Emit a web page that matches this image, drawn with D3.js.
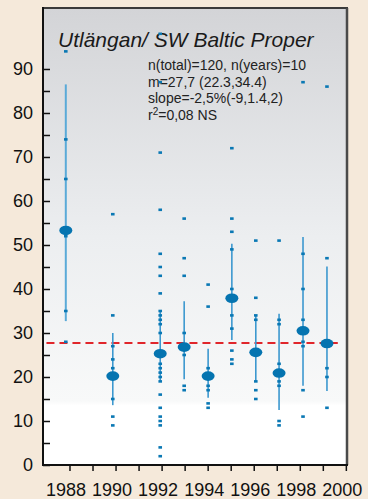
<!DOCTYPE html>
<html>
<head>
<meta charset="utf-8">
<script src="https://cdn.jsdelivr.net/npm/d3@7"></script>
<style>
  html, body { margin: 0; padding: 0; background: #f5e9da; }
  svg { display: block; }
</style>
</head>
<body>
<div id="chart"></div>
<script>
// years sampled and the time (decimal year) the samples are plotted at
var years = [1988, 1990, 1992, 1993, 1994, 1995, 1996, 1997, 1998, 1999];
var sampleTime = [1987.84, 1989.88, 1991.94, 1992.98, 1994.02, 1995.05, 1996.09, 1997.10, 1998.14, 1999.18];

// annual means and their confidence intervals
var means = [53.3, 20.2, 25.3, 26.8, 20.2, 37.9, 25.6, 20.9, 30.5, 27.6];
var ciLow = [32.7, 13.6, 19.0, 19.5, 15.3, 28.4, 19.0, 12.5, 18.0, 16.8];
var ciHigh = [86.5, 30.0, 35.0, 37.2, 26.4, 50.3, 34.0, 34.4, 51.8, 45.1];

// individual samples per year
var samples = [
  [94, 74, 65, 52, 35, 28],
  [57, 34, 27, 24, 22, 15, 11, 9],
  [98, 87, 71, 58, 48, 45, 43, 39, 35, 34, 33, 32, 30, 23, 22, 21, 20, 19, 16, 13, 11, 10, 9, 4, 2],
  [56, 47, 43, 30, 25, 18, 17],
  [41, 36, 22, 18, 17, 14, 13],
  [72, 56, 53, 49, 40, 34, 31, 26, 24, 23],
  [51, 38, 34, 33, 19, 17, 15],
  [51, 33, 32, 23, 19, 18, 10, 9],
  [87, 48, 40, 33, 28, 27, 17, 11],
  [86, 47, 22, 20, 13]
];

var overallMean = 27.7;
var refLineYears = [1987.0, 1999.65];

var title = "Utlängan/ SW Baltic Proper";
var statLines = ["n(total)=120, n(years)=10", "m=27,7 (22.3,34.4)", "slope=-2,5%(-9,1.4,2)"];

var yTicks = d3.range(0, 91, 5);
var xTicks = d3.range(1988, 2001);

var width = 368, height = 499;
var plotLeft = 43, plotRight = 347, plotTop = 8, plotBottom = 465;

var svg = d3.select('#chart').append('svg')
  .attr('width', width)
  .attr('height', height);

var x = d3.scaleLinear().domain([1986.85, 2000.05]).range([plotLeft, plotRight]);
var y = d3.scaleLinear().domain([0, 103.86]).range([plotBottom, plotTop]);

// background gradient of the plot area
var grad = svg.append('defs').append('linearGradient')
  .attr('id', 'bg')
  .attr('x1', 0).attr('y1', 0).attr('x2', 0).attr('y2', 1);
grad.append('stop').attr('offset', 0).attr('stop-color', '#d3d4d7');
grad.append('stop').attr('offset', 0.5).attr('stop-color', '#eceef0');
grad.append('stop').attr('offset', 0.86).attr('stop-color', '#f8f9f9');
grad.append('stop').attr('offset', 0.87).attr('stop-color', '#ffffff');
grad.append('stop').attr('offset', 1).attr('stop-color', '#ffffff');

svg.append('rect')
  .attr('x', plotLeft).attr('y', plotTop)
  .attr('width', plotRight - plotLeft).attr('height', plotBottom - plotTop)
  .attr('fill', 'url(#bg)');

// frame top / right
svg.append('line')
  .attr('x1', plotLeft).attr('x2', plotRight + 1).attr('y1', plotTop).attr('y2', plotTop)
  .attr('stroke', '#3a3a3a').attr('stroke-width', 2);
svg.append('line')
  .attr('x1', plotRight).attr('x2', plotRight).attr('y1', plotTop).attr('y2', plotBottom)
  .attr('stroke', '#4a4a4a').attr('stroke-width', 2.5);

// axes
var yAxis = d3.axisLeft(y)
  .tickValues(yTicks)
  .tickSize(-7)
  .tickPadding(10)
  .tickFormat(function(d) { return d % 10 === 0 ? d : ''; });

var gy = svg.append('g')
  .attr('transform', 'translate(' + plotLeft + ',0)')
  .call(yAxis);
gy.select('.domain').remove();
gy.selectAll('.tick line').attr('stroke', '#111').attr('stroke-width', 1.5);
gy.selectAll('.tick text')
  .attr('font-family', 'Liberation Sans, Arial, sans-serif')
  .attr('font-size', 18)
  .attr('fill', '#111');

var xAxis = d3.axisBottom(x)
  .tickValues(xTicks)
  .tickSize(6)
  .tickPadding(12)
  .tickFormat(function(d) { return d % 2 === 0 ? d : ''; });

var gx = svg.append('g')
  .attr('transform', 'translate(0,' + plotBottom + ')')
  .call(xAxis);
gx.select('.domain').remove();
gx.selectAll('.tick line').attr('stroke', '#111').attr('stroke-width', 1.5);
gx.selectAll('.tick text')
  .attr('dx', -4)
  .attr('font-family', 'Liberation Sans, Arial, sans-serif')
  .attr('font-size', 18)
  .attr('fill', '#111');

svg.append('line')
  .attr('x1', plotLeft).attr('x2', plotLeft).attr('y1', plotTop - 1).attr('y2', plotBottom + 1)
  .attr('stroke', '#111').attr('stroke-width', 2);
svg.append('line')
  .attr('x1', plotLeft - 1).attr('x2', plotRight + 1).attr('y1', plotBottom).attr('y2', plotBottom)
  .attr('stroke', '#111').attr('stroke-width', 2);

// title and stats
svg.append('text')
  .attr('x', 58).attr('y', 47)
  .attr('font-family', 'Liberation Sans, Arial, sans-serif')
  .attr('font-style', 'italic')
  .attr('font-size', 21)
  .attr('fill', '#1a1a1a')
  .text(title);

var stats = svg.append('g')
  .attr('font-family', 'Liberation Sans, Arial, sans-serif')
  .attr('font-size', 14)
  .attr('fill', '#222');

statLines.forEach(function(s, i) {
  stats.append('text')
    .attr('x', 148).attr('y', 70 + i * 16.5)
    .text(s);
});
var r2 = stats.append('text').attr('x', 148).attr('y', 70 + 3 * 16.5);
r2.append('tspan').text('r');
r2.append('tspan').attr('font-size', 10).attr('dy', -5).text('2');
r2.append('tspan').attr('dy', 5).text('=0,08 NS');

// overall mean reference line
svg.append('line')
  .attr('x1', x(refLineYears[0])).attr('x2', x(refLineYears[1]))
  .attr('y1', y(overallMean)).attr('y2', y(overallMean))
  .attr('stroke', '#e0262b')
  .attr('stroke-width', 2)
  .attr('stroke-dasharray', '8,5');

var blue = '#0a78b4';

// confidence intervals
svg.append('g').selectAll('line')
  .data(years)
  .join('line')
  .attr('x1', function(d, i) { return x(sampleTime[i]); })
  .attr('x2', function(d, i) { return x(sampleTime[i]); })
  .attr('y1', function(d, i) { return y(ciLow[i]); })
  .attr('y2', function(d, i) { return y(ciHigh[i]); })
  .attr('stroke', function(d, i) { return i === 0 ? '#5aaad8' : '#3c98cf'; })
  .attr('stroke-width', function(d, i) { return i === 0 ? 2 : 1.6; });

// individual samples
var pts = [];
samples.forEach(function(arr, i) {
  arr.forEach(function(v) { pts.push({t: sampleTime[i], v: v}); });
});

svg.append('g').selectAll('rect')
  .data(pts)
  .join('rect')
  .attr('x', function(d) { return x(d.t) - 1.8; })
  .attr('y', function(d) { return y(d.v) - 1.3; })
  .attr('width', 3.6)
  .attr('height', 2.6)
  .attr('fill', blue);

// annual means
svg.append('g').selectAll('ellipse')
  .data(years)
  .join('ellipse')
  .attr('cx', function(d, i) { return x(sampleTime[i]); })
  .attr('cy', function(d, i) { return y(means[i]); })
  .attr('rx', 6.5)
  .attr('ry', 4.8)
  .attr('fill', '#0574b0');
</script>
</body>
</html>
